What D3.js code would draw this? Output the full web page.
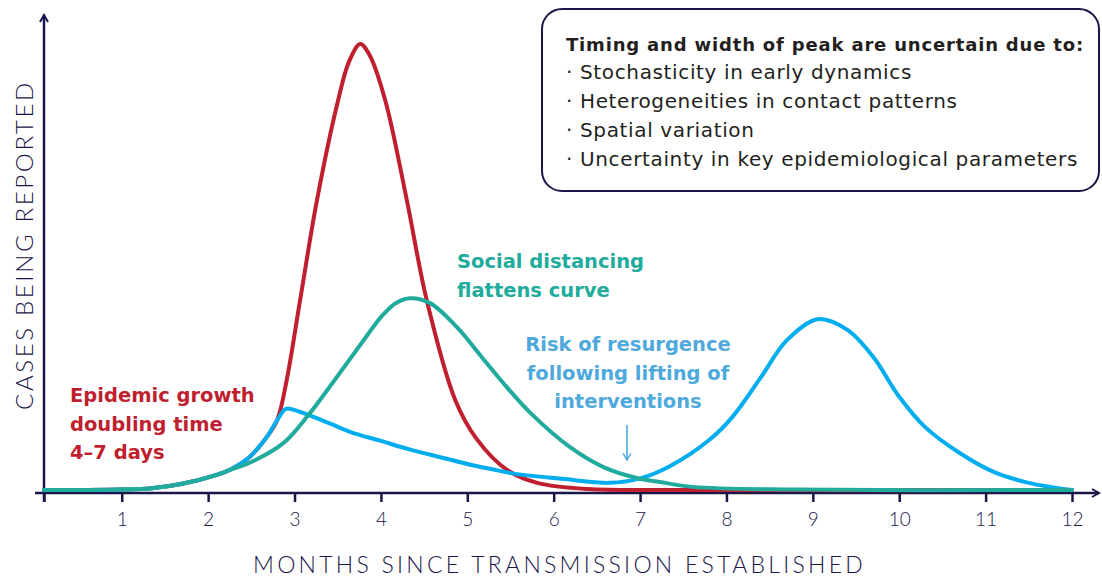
<!DOCTYPE html>
<html>
<head>
<meta charset="utf-8">
<script src="https://cdn.jsdelivr.net/npm/d3@7"></script>
<style>
  body { margin: 0; background: #fff; }
  svg { display: block; font-family: "DejaVu Sans", sans-serif; }
</style>
</head>
<body>
<div id="chart"></div>
<script>
const width = 1102;
const height = 579;

// Months since transmission established / cases (peak of unmitigated = 100)
const redMonths  = [0.1, 1.0, 1.35, 1.7, 2.1, 2.25, 2.48, 2.68, 2.8, 2.91, 3.06, 3.26, 3.5, 3.63, 3.76, 3.87, 4.05, 4.3, 4.53, 4.86, 5.11, 5.46, 5.81, 6.4, 7.5, 12];
const redCases   = [0, 0.1, 0.4, 1.4, 3.4, 4.5, 7.4, 11.9, 15.7, 24.7, 42, 65, 87, 96, 100, 97.5, 87.4, 65, 42.6, 20.2, 11.4, 4.5, 1.6, 0.2, 0, 0];

const blueMonths = [0.1, 1.0, 1.35, 1.7, 2.1, 2.25, 2.48, 2.68, 2.8, 2.9, 3.05, 3.4, 3.65, 4.0, 4.35, 4.7, 5.05, 5.35, 5.6, 6.1, 6.65, 7.0, 7.35, 7.8, 8.07, 8.4, 8.7, 9.06, 9.4, 9.7, 10.0, 10.3, 10.7, 11.1, 11.5, 12];
const blueCases  = [0, 0.1, 0.4, 1.4, 3.4, 4.5, 7.4, 11.9, 15.7, 18.2, 17.6, 15.0, 13.0, 11.0, 9.0, 7.3, 5.6, 4.4, 3.5, 2.5, 1.6, 2.6, 5.4, 11.2, 16.4, 25.3, 33.6, 38.3, 35.9, 29.8, 20.9, 14.1, 8.3, 4.0, 1.6, 0];

const greenMonths = [0.1, 1.0, 1.35, 1.7, 2.1, 2.25, 2.48, 2.87, 3.16, 3.44, 3.76, 4.02, 4.18, 4.34, 4.57, 4.88, 5.18, 5.46, 5.73, 6.19, 6.57, 6.96, 7.23, 7.61, 8.77, 12];
const greenCases  = [0, 0.1, 0.4, 1.4, 3.4, 4.5, 6.1, 10.5, 16.8, 24.0, 32.5, 39.2, 42.0, 43.0, 41.9, 36.5, 29.5, 23.0, 17.3, 9.6, 5.2, 2.7, 1.8, 0.7, 0.1, 0];

const monthTicks = [1, 2, 3, 4, 5, 6, 7, 8, 9, 10, 11, 12];

const boxTitle = "Timing and width of peak are uncertain due to:";
const boxItems = [
  "Stochasticity in early dynamics",
  "Heterogeneities in contact patterns",
  "Spatial variation",
  "Uncertainty in key epidemiological parameters"
];

const navy = "#1b1649";
const red = "#c01f2f";
const teal = "#21ab9c";
const blue = "#00aeef";
const blueText = "#4fa9dc";

// letter-spacing that stretches a text to a wanted width
const spacingFor = (node, target) =>
  (target - node.getComputedTextLength()) / node.textContent.length;

/*******************************/
/*    Append the containers    */
/*******************************/
const svg = d3.select("#chart")
  .append("svg")
    .attr("width", width)
    .attr("height", height)
    .attr("viewBox", `0, 0, ${width}, ${height}`);

const defs = svg.append("defs");
defs.append("marker")
    .attr("id", "axis-arrow")
    .attr("viewBox", "0 0 10 10")
    .attr("refX", 8)
    .attr("refY", 5)
    .attr("markerWidth", 4)
    .attr("markerHeight", 4)
    .attr("orient", "auto")
  .append("path")
    .attr("d", "M1,1 L8,5 L1,9")
    .attr("fill", "none")
    .attr("stroke", navy)
    .attr("stroke-width", 2);
defs.append("marker")
    .attr("id", "note-arrow")
    .attr("viewBox", "0 0 10 10")
    .attr("refX", 8)
    .attr("refY", 5)
    .attr("markerWidth", 6)
    .attr("markerHeight", 6)
    .attr("orient", "auto")
  .append("path")
    .attr("d", "M1,1 L8,5 L1,9")
    .attr("fill", "none")
    .attr("stroke", blueText)
    .attr("stroke-width", 1.5);

/****************************/
/*    Declare the scales    */
/****************************/
const xScale = d3.scaleLinear()
  .domain([0.1, 12])
  .range([44, 1072]);

const yScale = d3.scaleLinear()
  .domain([0, 100])
  .range([490, 44]);

/***************************/
/*     Append the axes     */
/***************************/
const axisY = 493;
const bottomAxis = d3.axisBottom(xScale)
  .tickValues([0.1, ...monthTicks])
  .tickFormat(d => monthTicks.includes(d) ? d : "")
  .tickSize(9)
  .tickPadding(11);

const xAxisG = svg.append("g")
    .attr("class", "axis-x")
    .attr("transform", `translate(0, ${axisY})`)
    .call(bottomAxis);
xAxisG.select(".domain").remove();
xAxisG.selectAll(".tick line")
    .attr("stroke", navy)
    .attr("stroke-width", 2.5);
xAxisG.selectAll(".tick text")
    .attr("fill", navy)
    .style("font-size", "19px")
    .style("font-weight", 300)
    .style("font-family", "Lato, sans-serif");

// Axis lines with arrows
svg.append("line")
    .attr("x1", 35).attr("y1", axisY)
    .attr("x2", 1099).attr("y2", axisY)
    .attr("stroke", navy)
    .attr("stroke-width", 2.5)
    .attr("marker-end", "url(#axis-arrow)");
svg.append("line")
    .attr("x1", xScale(0.1)).attr("y1", axisY + 9)
    .attr("x2", xScale(0.1)).attr("y2", 15)
    .attr("stroke", navy)
    .attr("stroke-width", 2.5)
    .attr("marker-end", "url(#axis-arrow)");

// Axis titles
svg.append("text")
    .text("MONTHS SINCE TRANSMISSION ESTABLISHED")
    .attr("x", 253)
    .attr("y", 573)
    .attr("fill", navy)
    .style("font-family", "Lato, sans-serif")
    .style("font-size", "23px")
    .style("font-weight", 300)
    .each(function() { d3.select(this).style("letter-spacing", `${spacingFor(this, 613)}px`); });
svg.append("text")
    .text("CASES BEING REPORTED")
    .attr("transform", "translate(33, 410) rotate(-90)")
    .attr("fill", navy)
    .style("font-family", "Lato, sans-serif")
    .style("font-size", "24px")
    .style("font-weight", 300)
    .each(function() { d3.select(this).style("letter-spacing", `${spacingFor(this, 330)}px`); });

/******************************/
/*      Append the curves     */
/******************************/
const lineGen = d3.line()
  .x(d => xScale(d[0]))
  .y(d => yScale(d[1]))
  .curve(d3.curveCatmullRom.alpha(0.5));

const curves = [
  { months: redMonths, cases: redCases, color: red },
  { months: blueMonths, cases: blueCases, color: blue },
  { months: greenMonths, cases: greenCases, color: teal }
];

svg.selectAll(".curve")
  .data(curves)
  .join("path")
    .attr("class", "curve")
    .attr("d", c => lineGen(d3.zip(c.months, c.cases)))
    .attr("fill", "none")
    .attr("stroke", c => c.color)
    .attr("stroke-width", 4)
    .attr("stroke-linejoin", "round")
    .attr("stroke-linecap", "round");

/******************************/
/*      Annotation texts      */
/******************************/
const addLines = (lines, x, y0, step, color, anchor) => {
  lines.forEach((l, i) => {
    svg.append("text")
        .attr("x", x)
        .attr("y", y0 + i * step)
        .attr("fill", color)
        .attr("text-anchor", anchor)
        .style("font-size", "19.5px")
        .style("font-weight", 700)
        .text(l);
  });
};
addLines(["Epidemic growth", "doubling time", "4–7 days"], 70, 402, 28.5, red, "start");
addLines(["Social distancing", "flattens curve"], 457, 268, 29, teal, "start");
addLines(["Risk of resurgence", "following lifting of", "interventions"], 628, 351, 28.5, blueText, "middle");

svg.append("line")
    .attr("x1", 627).attr("y1", 425)
    .attr("x2", 627).attr("y2", 460)
    .attr("stroke", blueText)
    .attr("stroke-width", 1.6)
    .attr("marker-end", "url(#note-arrow)");

/******************************/
/*          Info box          */
/******************************/
svg.append("rect")
    .attr("x", 542).attr("y", 9)
    .attr("width", 557).attr("height", 182)
    .attr("rx", 20)
    .attr("fill", "#fff")
    .attr("stroke", navy)
    .attr("stroke-width", 2);

svg.append("text")
    .text(boxTitle)
    .attr("x", 566).attr("y", 51)
    .attr("fill", "#231f20")
    .style("font-size", "18px")
    .style("font-weight", 700)
    .each(function() { d3.select(this).style("letter-spacing", `${spacingFor(this, 518)}px`); });

const items = svg.selectAll(".box-item")
  .data(boxItems)
  .join("text")
    .attr("class", "box-item")
    .attr("x", 566)
    .attr("y", (d, i) => 79 + i * 29)
    .attr("fill", "#231f20")
    .style("font-size", "20px")
    .style("font-weight", 400)
    .text(d => "· " + d);
// same spacing for every item, set by the longest line
const itemSpacing = spacingFor(items.nodes()[boxItems.length - 1], 512);
items.style("letter-spacing", `${itemSpacing}px`);
</script>
</body>
</html>
